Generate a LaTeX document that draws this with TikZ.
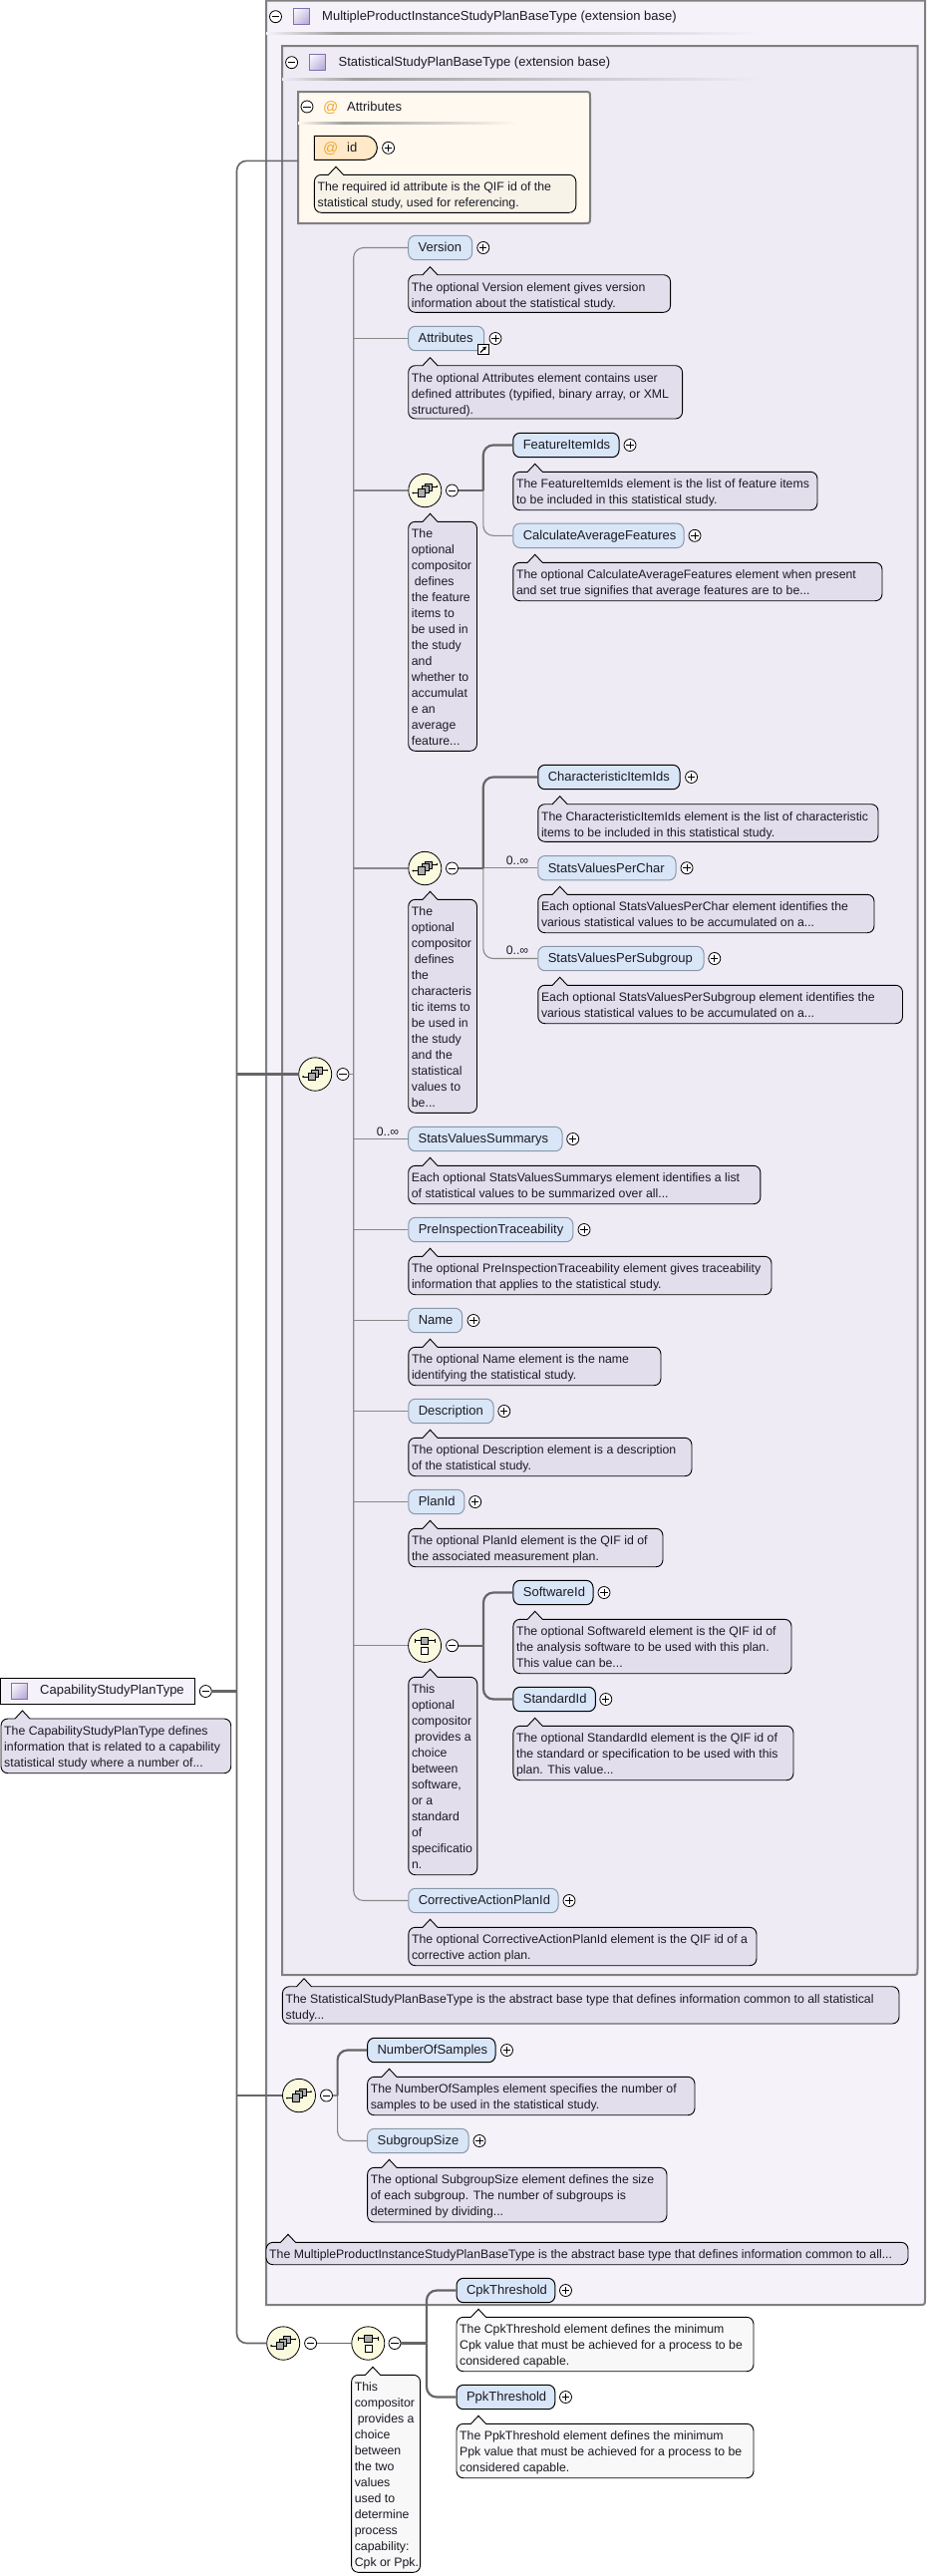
\documentclass[tikz,border=0pt]{standalone}
\usepackage{fontspec}
\setmainfont{Liberation Sans}
\usetikzlibrary{shapes.geometric,shapes.misc,arrows.meta,shadings}
\definecolor{outerfill}{HTML}{F5F2FA}
\definecolor{innerfill}{HTML}{EEEBF5}
\definecolor{attrfill}{HTML}{FFF9EF}
\definecolor{boxline}{HTML}{808080}
\definecolor{tipfill}{HTML}{E3DEEC}
\definecolor{tipattr}{HTML}{F7F3E9}
\definecolor{tipwhite}{HTML}{F8F8F8}
\definecolor{elemfill}{HTML}{D9E6F8}
\definecolor{elemline}{HTML}{8A98A8}
\definecolor{compfill}{HTML}{FBFADF}
\definecolor{attfill}{HTML}{FFE9C8}
\definecolor{conn}{HTML}{666666}
\definecolor{connthin}{HTML}{888888}
\definecolor{txt}{HTML}{1A1A24}
\definecolor{atcol}{HTML}{EFA632}
\definecolor{HTMLicon}{HTML}{8070B0}
\definecolor{B8}{HTML}{B0A0D4}
\definecolor{M8}{HTML}{DAD3EA}
\tikzset{
  lbl/.style={font=\fontsize{13}{16}\selectfont, text=txt, inner sep=0pt},
  occ/.style={font=\fontsize{12.3}{16}\selectfont, text=txt, inner sep=0pt},
  tiptext/.style={font=\fontsize{12.3}{16}\selectfont, text=txt, inner sep=0pt, anchor=north west, align=left},
  elembase/.style={lbl, rounded corners=7pt, fill=elemfill, line width=1pt, inner ysep=0pt, inner xsep=10pt,
     text height=9.5pt, text depth=0.6pt, align=left, minimum height=24.4pt},
  elemopt/.style={elembase, draw=elemline},
  elemreq/.style={elembase, draw=black},
  minusc/.style={circle, draw=black, fill=white, minimum size=12pt, inner sep=0pt, line width=.8pt,
     path picture={\draw[line width=.8pt] (-3.6pt,0pt)--(3.6pt,0pt);}},
  plusc/.style={circle, draw=black, fill=white, minimum size=12pt, inner sep=0pt, line width=.8pt,
     path picture={\draw[line width=.8pt] (-3.6pt,0pt)--(3.6pt,0pt) (0pt,-3.6pt)--(0pt,3.6pt);}},
  comp/.style={ellipse, draw=black, fill=compfill, line width=.8pt, minimum width=33pt, minimum height=33.4pt, inner sep=0pt},
  typeicon/.style={rectangle, draw=HTMLicon, minimum size=16pt, inner sep=0pt, line width=.8pt,
     shading=bilinear interpolation, upper left=white, lower right=B8, upper right=M8, lower left=M8},
  thickc/.style={draw=conn, line width=2.2pt},
  midc/.style={draw=conn, line width=1.6pt},
  thinc/.style={draw=connthin, line width=1.1pt},
  tipbox/.style={draw=black, line width=.9pt},
  boxframe/.style={draw=boxline, line width=2pt},
  ic/.style={draw=black, fill=gray!65, line width=.6pt},
  icw/.style={draw=black, fill=white, line width=.6pt},
  icl/.style={draw=black, line width=.7pt}
}
% tooltip: [fill]{name}{left}{top}{right}{bottom}{peak x}{text}
\newcommand{\tip}[7][tipfill]{\def\tipF{#1}\def\tipN{#2}\def\tipL{#3}\def\tipT{#4}\def\tipR{#5}\def\tipB{#6}\def\tipP{#7}\tipgo}
\newcommand{\tipgo}[1]{%
  \draw[tipbox, fill=\tipF] ({\tipL+7},\tipT) -- ({\tipP-7.5},\tipT) -- (\tipP,{\tipT-8}) -- ({\tipP+7.5},\tipT) -- ({\tipR-7},\tipT)
    .. controls ({\tipR-3},\tipT) and (\tipR,{\tipT+3}) .. (\tipR,{\tipT+7}) -- (\tipR,{\tipB-7})
    .. controls (\tipR,{\tipB-3}) and ({\tipR-3},\tipB) .. ({\tipR-7},\tipB)
    -- ({\tipL+7},\tipB) .. controls ({\tipL+3},\tipB) and (\tipL,{\tipB-3}) .. (\tipL,{\tipB-7})
    -- (\tipL,{\tipT+7}) .. controls (\tipL,{\tipT+3}) and ({\tipL+3},\tipT) .. cycle;
  \node[tiptext] (\tipN) at ({\tipL+3},{\tipT+4.8}) {\rule[-4.6pt]{0pt}{16pt}#1};
}
% element: [style]{name}{left}{right}{cy}{plus x}{text}
\newcommand{\elem}[6][elemopt]{\def\elS{#1}\def\elN{#2}\def\elL{#3}\def\elR{#4}\def\elY{#5}\def\elP{#6}\elgo}
\newcommand{\elgo}[1]{%
  \pgfmathsetmacro\elW{\elR-\elL}\pgfmathsetmacro\elT{\elW-20}\pgfmathsetmacro\elC{(\elL+\elR)/2}%
  \node[\elS, minimum width=\elW pt, text width=\elT pt] (\elN) at (\elC,\elY) {\mbox{#1}};
  \node[plusc] (\elN-p) at (\elP,\elY) {};
}
\newcommand{\seqicon}[2]{\begin{scope}[shift={(#1,#2)}]
  \draw[icl] (-12,2.5)--(-6,2.5) (5,-4)--(12,-4);
  \fill (-12,2.5) circle (1) (12,-4) circle (1);
  \draw[ic] (0,-7) rectangle (7,0);
  \draw[ic] (-3.5,-4.5) rectangle (3.5,2.5);
  \draw[ic] (-7,-1.5) rectangle (0,6);
\end{scope}}
\newcommand{\choiceicon}[2]{\begin{scope}[shift={(#1,#2)}]
  \draw[icl] (-10,-5)--(10,-5) (-10,-7)--(-10,-3) (10,-7)--(10,-3);
  \draw[ic] (-4,-8.5) rectangle (3.5,-1.2);
  \draw[icw] (-3.5,2) rectangle (3.5,9);
\end{scope}}
\begin{document}
\begin{tikzpicture}[x=1pt,y=-1pt]
\useasboundingbox (0,0) rectangle (930,2584);
\fill[white] (0,0) rectangle (930,2584);
% ---------- nested boxes
\draw[boxframe, fill=outerfill] (267,0.5) -- (928,0.5) -- (928,2306) .. controls (928,2312) .. (922,2312) -- (267,2312) -- cycle;
\shade[left color=outerfill, right color=gray!75] (267,32) rectangle (340,34.5);
\shade[left color=gray!75, right color=outerfill] (340,32) rectangle (765,34.5);
\node[minusc] (outer-m) at (276.5,16.7) {};
\node[typeicon] (outer-i) at (302,16.7) {};
\node[lbl, anchor=west] (outer-t) at (323,16.7) {MultipleProductInstanceStudyPlanBaseType (extension base)};
\draw[boxframe, fill=innerfill] (283,46) -- (920.5,46) -- (920.5,1975) .. controls (920.5,1981) .. (914.5,1981) -- (283,1981) -- cycle;
\shade[left color=innerfill, right color=gray!75] (283,78) rectangle (356,80.5);
\shade[left color=gray!75, right color=innerfill] (356,78) rectangle (765,80.5);
\node[minusc] (inner-m) at (292.6,62.7) {};
\node[typeicon] (inner-i) at (318.3,62) {};
\node[lbl, anchor=west] (inner-t) at (339.5,62.7) {StatisticalStudyPlanBaseType (extension base)};
\draw[boxframe, fill=attrfill] (299,92) -- (586,92) .. controls (592,92) .. (592,98) -- (592,218) .. controls (592,224) .. (586,224) -- (299,224) -- cycle;
\shade[left color=attrfill, right color=gray!75] (299,122) rectangle (345,124);
\shade[left color=gray!75, right color=attrfill] (345,122) rectangle (520,124);
\node[minusc] (attr-m) at (308,107) {};
\node[lbl, anchor=west, text=atcol, font=\fontsize{15}{16}\selectfont] (attr-at) at (324,108) {@};
\node[lbl, anchor=west] (attr-t) at (348,107) {Attributes};
\coordinate (attr-w) at (299,161.3);
% ---------- id attribute
\node[rounded rectangle, rounded rectangle west arc=none, draw=black, fill=attfill, line width=1pt, minimum width=63pt, minimum height=24pt, inner sep=0pt] (idattr) at (346.9,148.3) {};
\node[lbl, anchor=west, text=atcol, font=\fontsize{15}{16}\selectfont] (id-at) at (324,149.5) {@};
\node[lbl, anchor=west] (id-t) at (348,148) {id};
\node[plusc] (id-p) at (389.6,148.3) {};
\tip[tipattr]{tipid}{315.4}{175.3}{577.8}{213.3}{337}{The required id attribute is the QIF id of the\\statistical study, used for referencing.}
% ---------- StatisticalStudyPlanBaseType children
\elem{version}{409.7}{473.6}{248.5}{484.8}{Version}
\tip{tipversion}{409.7}{275.7}{672.6}{313.3}{431.5}{The optional Version element gives version\\information about the statistical study.}
\elem{attributes}{409.7}{485.7}{339.5}{497}{Attributes}
\node[draw=black, fill=white, minimum size=10.5pt, inner sep=0pt, line width=.8pt] (attr-sc) at (484.8,350.5) {};
\draw[-{Latex[length=3.5pt,width=4.5pt]}, line width=1.3pt] (482,353.5) -- (488,347.5);
\tip{tipattributes}{409.7}{366.7}{684.6}{420}{431.5}{The optional Attributes element contains user\\defined attributes (typified, binary array, or XML\\structured).}
% sequence 1
\node[comp] (seq1) at (426.3,492) {};
\seqicon{426.3}{492}
\node[minusc] (seq1-m) at (453.5,492) {};
\tip{tipseq1}{409.7}{523.3}{478.5}{753.3}{431.5}{The\\optional\\compositor\\\hspace*{3pt}defines\\the feature\\items to\\be used in\\the study\\and\\whether to\\accumulat\\e an\\average\\feature...}
\elem[elemreq]{featureitemids}{514.8}{621}{446.5}{632}{FeatureItemIds}
\tip{tipfeature}{514.8}{473.3}{820}{511.7}{536.7}{The FeatureItemIds element is the list of feature items\\to be included in this statistical study.}
\elem{calcavg}{514.8}{686}{537.3}{697}{CalculateAverageFeatures}
\tip{tipcalc}{514.8}{564.3}{885}{602.7}{536.7}{The optional CalculateAverageFeatures element when present\\and set true signifies that average features are to be...}
% sequence 2
\node[comp] (seq2) at (426.3,871) {};
\seqicon{426.3}{871}
\node[minusc] (seq2-m) at (453.5,871) {};
\tip{tipseq2}{409.7}{902.3}{478.5}{1116.3}{431.5}{The\\optional\\compositor\\\hspace*{3pt}defines\\the\\characteris\\tic items to\\be used in\\the study\\and the\\statistical\\values to\\be...}
\elem[elemreq]{charitemids}{539.8}{682}{779.5}{693.6}{CharacteristicItemIds}
\tip{tipchar}{539.8}{806.7}{881}{844.3}{561.7}{The CharacteristicItemIds element is the list of characteristic\\items to be included in this statistical study.}
\elem{perchar}{539.8}{678}{870.7}{689}{StatsValuesPerChar}
\node[occ] (occ-char) at (519,863) {0..∞};
\tip{tipperchar}{539.8}{897.3}{877}{935.7}{561.7}{Each optional StatsValuesPerChar element identifies the\\various statistical values to be accumulated on a...}
\elem{persub}{539.8}{706}{961.5}{716.8}{StatsValuesPerSubgroup}
\node[occ] (occ-sub) at (519,953.7) {0..∞};
\tip{tippersub}{539.8}{988.3}{905.5}{1026.7}{561.7}{Each optional StatsValuesPerSubgroup element identifies the\\various statistical values to be accumulated on a...}
% main sequence
\node[comp] (seq0) at (316.2,1077.5) {};
\seqicon{316.2}{1077.5}
\node[minusc] (seq0-m) at (344,1077.5) {};
\elem{summarys}{409.7}{564}{1142.5}{574.7}{StatsValuesSummarys}
\node[occ] (occ-sum) at (389,1135) {0..∞};
\tip{tipsum}{409.7}{1169.3}{762.9}{1207.7}{431.5}{Each optional StatsValuesSummarys element identifies a list\\of statistical values to be summarized over all...}
\elem{preinsp}{409.8}{574.8}{1233.5}{586}{PreInspectionTraceability}
\tip{tippre}{409.8}{1260.3}{774}{1298.7}{431.5}{The optional PreInspectionTraceability element gives traceability\\information that applies to the statistical study.}
\elem{name}{409.8}{463.6}{1324.5}{475}{Name}
\tip{tipname}{409.8}{1351.3}{663}{1389.7}{431.5}{The optional Name element is the name\\identifying the statistical study.}
\elem{description}{409.8}{495}{1415.5}{505.8}{Description}
\tip{tipdesc}{409.8}{1442.3}{694}{1480.7}{431.5}{The optional Description element is a description\\of the statistical study.}
\elem{planid}{409.8}{465.8}{1506.5}{476.7}{PlanId}
\tip{tipplan}{409.8}{1533.3}{665}{1571.7}{431.5}{The optional PlanId element is the QIF id of\\the associated measurement plan.}
% choice
\node[comp] (ch1) at (426.1,1650.7) {};
\choiceicon{426.1}{1650.7}
\node[minusc] (ch1-m) at (453.6,1650.7) {};
\tip{tipch1}{409.8}{1682.3}{478.8}{1880.7}{431.5}{This\\optional\\compositor\\\hspace*{3pt}provides a\\choice\\between\\software,\\or a\\standard\\of\\specificatio\\n.}
\elem[elemreq]{softwareid}{514.9}{595}{1597.5}{606}{SoftwareId}
\tip{tipsoft}{514.9}{1624.3}{794}{1678.7}{536.7}{The optional SoftwareId element is the QIF id of\\the analysis software to be used with this plan.\\This value can be...}
\elem[elemreq]{standardid}{514.9}{597.4}{1704.5}{607.8}{StandardId}
\tip{tipstd}{514.9}{1731.3}{796}{1785.7}{536.7}{The optional StandardId element is the QIF id of\\the standard or specification to be used with this\\plan. This value...}
\elem{corrective}{409.8}{560}{1906.5}{571}{CorrectiveActionPlanId}
\tip{tipcorr}{409.8}{1933.3}{759}{1971.7}{431.5}{The optional CorrectiveActionPlanId element is the QIF id of a\\corrective action plan.}
\tip{tipstat}{283.4}{1992.7}{902}{2030}{305}{The StatisticalStudyPlanBaseType is the abstract base type that defines information common to all statistical\\study...}
% sequence 3
\node[comp] (seq3) at (300,2102) {};
\seqicon{300}{2102}
\node[minusc] (seq3-m) at (327.5,2102) {};
\elem[elemreq]{samples}{368.6}{497}{2056.5}{508.5}{NumberOfSamples}
\tip{tipsamples}{368.6}{2083.3}{697}{2121.7}{390.5}{The NumberOfSamples element specifies the number of\\samples to be used in the statistical study.}
\elem{subgroup}{368.6}{470}{2147.5}{481}{SubgroupSize}
\tip{tipsubgroup}{368.6}{2174.3}{669}{2229}{390.5}{The optional SubgroupSize element defines the size\\of each subgroup. The number of subgroups is\\determined by dividing...}
\tip{tipmulti}{267}{2249.3}{911}{2271.7}{289}{The MultipleProductInstanceStudyPlanBaseType is the abstract base type that defines information common to all...}
% sequence 4 and choice 2
\node[comp] (seq4) at (284.2,2350.5) {};
\seqicon{284.2}{2350.5}
\node[minusc] (seq4-m) at (311.6,2350.5) {};
\node[comp] (ch2) at (369.3,2350.5) {};
\choiceicon{369.3}{2350.5}
\node[minusc] (ch2-m) at (396,2350.5) {};
\tip[tipwhite]{tipch2}{352.6}{2382.3}{421.6}{2580.3}{374}{This\\compositor\\\hspace*{3pt}provides a\\choice\\between\\the two\\values\\used to\\determine\\process\\capability:\\Cpk or Ppk.}
\elem[elemreq]{cpk}{458}{556.8}{2297.5}{567.5}{CpkThreshold}
\tip[tipwhite]{tipcpk}{458}{2324.3}{756}{2378.7}{480}{The CpkThreshold element defines the minimum\\Cpk value that must be achieved for a process to be\\considered capable.}
\elem[elemreq]{ppk}{458}{556.8}{2404.5}{567.5}{PpkThreshold}
\tip[tipwhite]{tipppk}{458}{2431.3}{756}{2485.7}{480}{The PpkThreshold element defines the minimum\\Ppk value that must be achieved for a process to be\\considered capable.}
% root
\node[draw=black, fill=outerfill, line width=1pt, minimum width=195pt, minimum height=26.4pt, inner sep=0pt] (root) at (98,1696.5) {};
\node[typeicon] (root-i) at (19,1696) {};
\node[lbl, anchor=west] (root-t) at (40,1696.5) {CapabilityStudyPlanType};
\node[minusc] (root-m) at (206.3,1696.5) {};
\tip{tiproot}{1}{1724}{231.7}{1778.7}{22.5}{The CapabilityStudyPlanType defines\\information that is related to a capability\\statistical study where a number of...}
% ---------- connectors
\coordinate (tr) at (237.5,1696.5);
\coordinate (b0) at (354.7,1077.5);
\coordinate (b1) at (484.8,492);
\coordinate (b2) at (484.8,871);
\coordinate (b3) at (485,1650.7);
\coordinate (b4) at (338.6,2102);
\coordinate (b5) at (428,2350.5);
\draw[thickc] (root-m.east) -- (tr);
\draw[midc, rounded corners=10pt] (attr-w) -| (tr);
\draw[midc, rounded corners=10pt] (seq4.west) -| (tr);
\draw[thickc] (seq0.west) -- (seq0.west -| tr);
\draw[thickc] (seq3.west) -- (seq3.west -| tr);
\draw[midc] (seq4-m.east) -- (ch2.west);
\draw[thinc] (seq0-m.east) -- (b0);
\draw[thinc, rounded corners=10pt] (version.west) -| (b0);
\draw[thinc, rounded corners=10pt] (corrective.west) -| (b0);
\draw[thinc] (attributes.west) -- (attributes.west -| b0);
\draw[thinc] (seq1.west) -- (seq1.west -| b0);
\draw[thinc] (seq2.west) -- (seq2.west -| b0);
\draw[thinc] (summarys.west) -- (summarys.west -| b0);
\draw[thinc] (preinsp.west) -- (preinsp.west -| b0);
\draw[thinc] (name.west) -- (name.west -| b0);
\draw[thinc] (description.west) -- (description.west -| b0);
\draw[thinc] (planid.west) -- (planid.west -| b0);
\draw[thinc] (ch1.west) -- (ch1.west -| b0);
\draw[thinc, rounded corners=10pt] (calcavg.west) -| (b1);
\draw[thickc] (seq1-m.east) -- (b1);
\draw[thickc, rounded corners=10pt] (featureitemids.west) -| (b1);
\draw[thinc, rounded corners=10pt] (persub.west) -| (b2);
\draw[thinc] (perchar.west) -- (perchar.west -| b2);
\draw[thickc] (seq2-m.east) -- (b2);
\draw[thickc, rounded corners=10pt] (charitemids.west) -| (b2);
\draw[thickc] (ch1-m.east) -- (b3);
\draw[thickc, rounded corners=10pt] (softwareid.west) -| (b3);
\draw[thickc, rounded corners=10pt] (standardid.west) -| (b3);
\draw[thinc] (seq3-m.east) -- (b4);
\draw[thinc, rounded corners=10pt] (subgroup.west) -| (b4);
\draw[thickc, rounded corners=10pt] (samples.west) -| (b4);
\draw[thickc] (ch2-m.east) -- (b5);
\draw[thickc, rounded corners=10pt] (cpk.west) -| (b5);
\draw[thickc, rounded corners=10pt] (ppk.west) -| (b5);
\end{tikzpicture}
\end{document}
